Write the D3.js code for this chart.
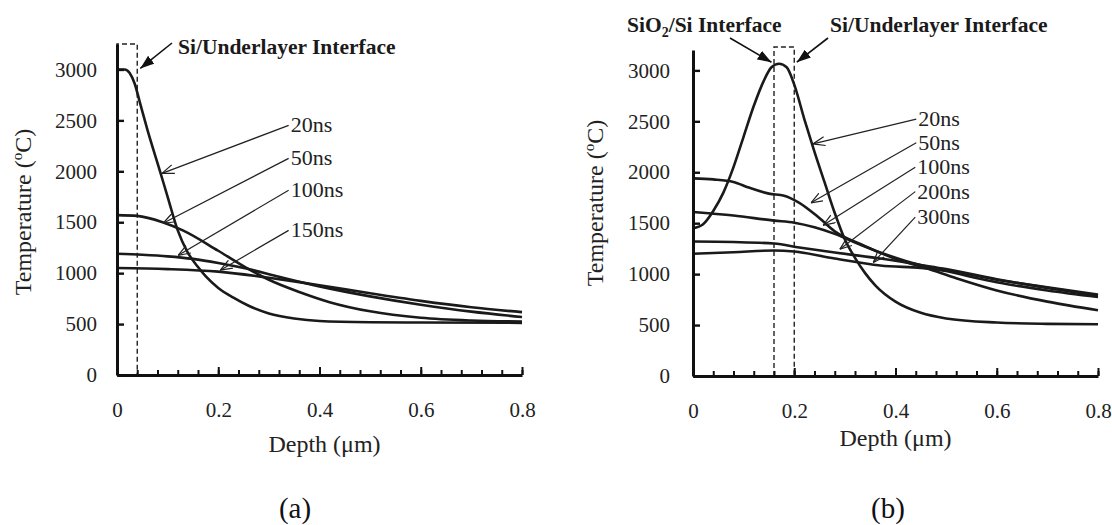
<!DOCTYPE html>
<html>
<head>
<meta charset="utf-8">
<script src="https://cdn.jsdelivr.net/npm/d3@7"></script>
<style>
  body { margin: 0; background: #fff; }
  svg, svg text { font-family: "Liberation Serif", "Times New Roman", serif !important; }
</style>
</head>
<body>
<script>
// Tick values shared by both panels
var xTicks = [0, 0.2, 0.4, 0.6, 0.8];
var yTicks = [0, 500, 1000, 1500, 2000, 2500, 3000];

// (a) Si on underlayer: [depth um, temperature C]
var a20ns = [[0,3000],[0.015,3000],[0.025,2965],[0.035,2860],[0.045,2680],[0.06,2410],[0.085,2000],[0.1,1750],[0.12,1420],[0.14,1200],[0.16,1060],[0.175,970],[0.2,855],[0.23,760],[0.26,680],[0.3,605],[0.35,555],[0.4,530],[0.5,518],[0.6,515],[0.8,512]];
var a50ns = [[0,1570],[0.04,1562],[0.09,1500],[0.13,1420],[0.2,1220],[0.26,1040],[0.3,935],[0.36,815],[0.42,715],[0.5,625],[0.6,562],[0.7,535],[0.8,525]];
var a100ns = [[0,1190],[0.05,1180],[0.1,1165],[0.15,1140],[0.2,1100],[0.26,1040],[0.32,965],[0.4,870],[0.5,772],[0.6,690],[0.7,622],[0.8,570]];
var a150ns = [[0,1050],[0.1,1040],[0.2,1015],[0.3,955],[0.36,912],[0.4,882],[0.5,802],[0.6,728],[0.7,665],[0.8,617]];

// (b) SiO2 / Si / underlayer
var b20ns = [[0,1450],[0.02,1490],[0.04,1620],[0.06,1800],[0.08,2050],[0.1,2350],[0.12,2650],[0.14,2900],[0.155,3030],[0.17,3065],[0.185,3030],[0.2,2860],[0.22,2520],[0.24,2200],[0.26,1900],[0.28,1600],[0.3,1340],[0.32,1160],[0.34,1010],[0.36,890],[0.4,730],[0.45,620],[0.5,565],[0.6,525],[0.7,512],[0.8,508]];
var b50ns = [[0,1940],[0.04,1930],[0.08,1905],[0.11,1850],[0.15,1790],[0.18,1770],[0.21,1700],[0.245,1570],[0.28,1420],[0.34,1275],[0.4,1150],[0.46,1060],[0.52,960],[0.6,840],[0.7,730],[0.8,645]];
var b100ns = [[0,1610],[0.08,1575],[0.16,1525],[0.2,1505],[0.24,1460],[0.28,1395],[0.33,1290],[0.37,1212],[0.42,1130],[0.5,1030],[0.6,920],[0.7,840],[0.8,775]];
var b200ns = [[0,1320],[0.08,1315],[0.16,1300],[0.21,1262],[0.28,1212],[0.37,1153],[0.45,1090],[0.5,1050],[0.6,950],[0.7,865],[0.8,790]];
var b300ns = [[0,1200],[0.08,1215],[0.16,1232],[0.2,1222],[0.28,1153],[0.37,1085],[0.45,1060],[0.5,1035],[0.6,945],[0.7,870],[0.8,800]];

// leader labels: name, label anchor [depth, temp], arrow tip [depth, temp]
var aLabels = [["20ns",[0.343,2451],[0.089,1980]],["50ns",[0.343,2127],[0.091,1490]],["100ns",[0.343,1814],[0.121,1176]],["150ns",[0.343,1420],[0.204,1029]]];
var bLabels = [["20ns",[0.445,2522],[0.237,2278]],["50ns",[0.445,2290],[0.233,1700]],["100ns",[0.443,2050],[0.257,1480]],["200ns",[0.443,1810],[0.29,1245]],["300ns",[0.443,1560],[0.356,1114]]];

var svg = d3.select("body").append("svg")
    .attr("width", 1112)
    .attr("height", 525);

var defs = svg.append("defs");
defs.append("marker").attr("id", "open")
    .attr("viewBox", "0 0 12 10").attr("refX", 12).attr("refY", 5)
    .attr("markerWidth", 12).attr("markerHeight", 10)
    .attr("markerUnits", "userSpaceOnUse").attr("orient", "auto")
  .append("path").attr("d", "M0,0.5 L12,5 L0,9.5")
    .attr("fill", "none").attr("stroke", "#222").attr("stroke-width", 1.2);
defs.append("marker").attr("id", "solid")
    .attr("viewBox", "0 0 14 10").attr("refX", 14).attr("refY", 5)
    .attr("markerWidth", 14).attr("markerHeight", 10)
    .attr("markerUnits", "userSpaceOnUse").attr("orient", "auto")
  .append("path").attr("d", "M0,0 L14,5 L0,10 Z").attr("fill", "#111");

function panel(cfg) {
  var g = svg.append("g");
  var x = d3.scaleLinear().domain([0, 0.8]).range([cfg.x0, cfg.x1]);
  var y = d3.scaleLinear().domain([0, cfg.yMax]).range([cfg.yBot, cfg.yTop]);

  // dashed interface box
  var bx0 = x(cfg.box[0]), bx1 = x(cfg.box[1]), by = y(cfg.boxTop);
  g.append("path")
      .attr("d", "M" + bx0 + "," + cfg.yBot + "V" + by + "H" + bx1 + "V" + cfg.yBot)
      .attr("fill", "none").attr("stroke", "#222")
      .attr("stroke-width", 1.4).attr("stroke-dasharray", "5,3");

  // curves
  var line = d3.line()
      .x(function(d) { return x(d[0]); })
      .y(function(d) { return y(d[1]); })
      .curve(d3.curveMonotoneX);
  g.selectAll(".curve")
      .data(cfg.series)
      .enter().append("path")
      .attr("class", "curve")
      .attr("d", line)
      .attr("fill", "none").attr("stroke", "#1a1a1a").attr("stroke-width", 2.6);

  // inward ticks on the x axis
  var minor = g.append("g").attr("transform", "translate(0," + cfg.yBot + ")")
      .call(d3.axisTop(x).tickValues(d3.range(0, 0.801, 0.04)).tickSize(5).tickSizeOuter(0).tickFormat(""));
  var major = g.append("g").attr("transform", "translate(0," + cfg.yBot + ")")
      .call(d3.axisTop(x).tickValues(xTicks).tickSize(8).tickSizeOuter(0).tickFormat(""));
  major.select(".domain").remove();
  minor.select(".domain").attr("stroke-width", 3).attr("stroke", "#111");
  g.selectAll(".tick line").attr("stroke-width", 2).attr("stroke", "#111");

  // y axis line and inward ticks
  var yax = g.append("g").attr("transform", "translate(" + cfg.x0 + ",0)")
      .call(d3.axisRight(y).tickValues(yTicks).tickSize(7).tickSizeOuter(0).tickFormat(""));
  yax.select(".domain").attr("stroke-width", 3).attr("stroke", "#111");
  yax.selectAll(".tick line").attr("stroke-width", 2.4).attr("stroke", "#111");

  // tick labels
  var xl = g.append("g").attr("transform", "translate(0," + cfg.yBot + ")")
      .call(d3.axisBottom(x).tickValues(xTicks).tickSize(0).tickPadding(27)
        .tickFormat(function(d) { return d === 0 ? "0" : d3.format(".1f")(d); }));
  var yl = g.append("g").attr("transform", "translate(" + cfg.x0 + ",0)")
      .call(d3.axisLeft(y).tickValues(yTicks).tickSize(0).tickPadding(cfg.yPad).tickFormat(d3.format("d")));
  [xl, yl].forEach(function(a) {
    a.attr("font-family", null);
    a.select(".domain").remove();
    a.selectAll("text").attr("font-size", 21).attr("fill", "#222");
  });

  // axis titles
  g.append("text")
      .attr("x", (cfg.x0 + cfg.x1) / 2 + cfg.depthDx).attr("y", cfg.depthY)
      .attr("text-anchor", "middle").attr("font-size", 24).attr("fill", "#222")
      .text("Depth (\u03bcm)");
  var t = g.append("text")
      .attr("transform", "translate(" + cfg.tempX + "," + cfg.tempY + ") rotate(-90)")
      .attr("text-anchor", "middle").attr("font-size", 24).attr("fill", "#222");
  t.append("tspan").text("Temperature (");
  t.append("tspan").attr("font-size", 15).attr("dy", -9).text("o");
  t.append("tspan").attr("dy", 9).text("C)");

  // panel letter
  g.append("text")
      .attr("x", cfg.letterX).attr("y", 518)
      .attr("text-anchor", "middle").attr("font-size", 29).attr("fill", "#111")
      .text(cfg.letter);

  // time labels with open arrows
  cfg.labels.forEach(function(l) {
    g.append("line")
        .attr("x1", x(l[1][0]) - 2).attr("y1", y(l[1][1]))
        .attr("x2", x(l[2][0])).attr("y2", y(l[2][1]))
        .attr("stroke", "#222").attr("stroke-width", 1.2)
        .attr("marker-end", "url(#open)");
    g.append("text")
        .attr("x", x(l[1][0])).attr("y", y(l[1][1]) + 7)
        .attr("font-size", 22).attr("fill", "#222")
        .text(l[0]);
  });

  // interface callouts
  cfg.callouts.forEach(function(c) {
    var txt = g.append("text")
        .attr("x", c.tx).attr("y", c.ty)
        .attr("font-size", 21.5).attr("font-weight", "bold").attr("fill", "#1a1a1a");
    c.parts.forEach(function(p) {
      if (p.sub) txt.append("tspan").attr("font-size", 14).attr("dy", 5).text(p.t);
      else txt.append("tspan").attr("dy", p.back ? -5 : 0).text(p.t);
    });
    g.append("line")
        .attr("x1", c.from[0]).attr("y1", c.from[1])
        .attr("x2", x(c.tip[0])).attr("y2", y(c.tip[1]))
        .attr("stroke", "#111").attr("stroke-width", 1.6)
        .attr("marker-end", "url(#solid)");
  });
}

panel({
  x0: 117, x1: 522, yBot: 375, yTop: 44, yMax: 3250, yPad: 20,
  box: [0, 0.04], boxTop: 3250,
  series: [a20ns, a50ns, a100ns, a150ns],
  labels: aLabels,
  depthDx: 5, depthY: 452, tempX: 31, tempY: 212,
  letter: "(a)", letterX: 295,
  callouts: [
    {tx: 178, ty: 54, parts: [{t: "Si/Underlayer Interface"}], from: [172, 43], tip: [0.046, 3010]}
  ]
});

panel({
  x0: 693, x1: 1098, yBot: 376, yTop: 50, yMax: 3200, yPad: 23,
  box: [0.16, 0.2], boxTop: 3230,
  series: [b20ns, b50ns, b100ns, b200ns, b300ns],
  labels: bLabels,
  depthDx: 0, depthY: 446, tempX: 603, tempY: 203,
  letter: "(b)", letterX: 888,
  callouts: [
    {tx: 627, ty: 32, parts: [{t: "SiO"}, {t: "2", sub: true}, {t: "/Si Interface", back: true}], from: [730, 38], tip: [0.155, 3080]},
    {tx: 830, ty: 32, parts: [{t: "Si/Underlayer Interface"}], from: [828, 38], tip: [0.205, 3080]}
  ]
});
</script>
</body>
</html>
